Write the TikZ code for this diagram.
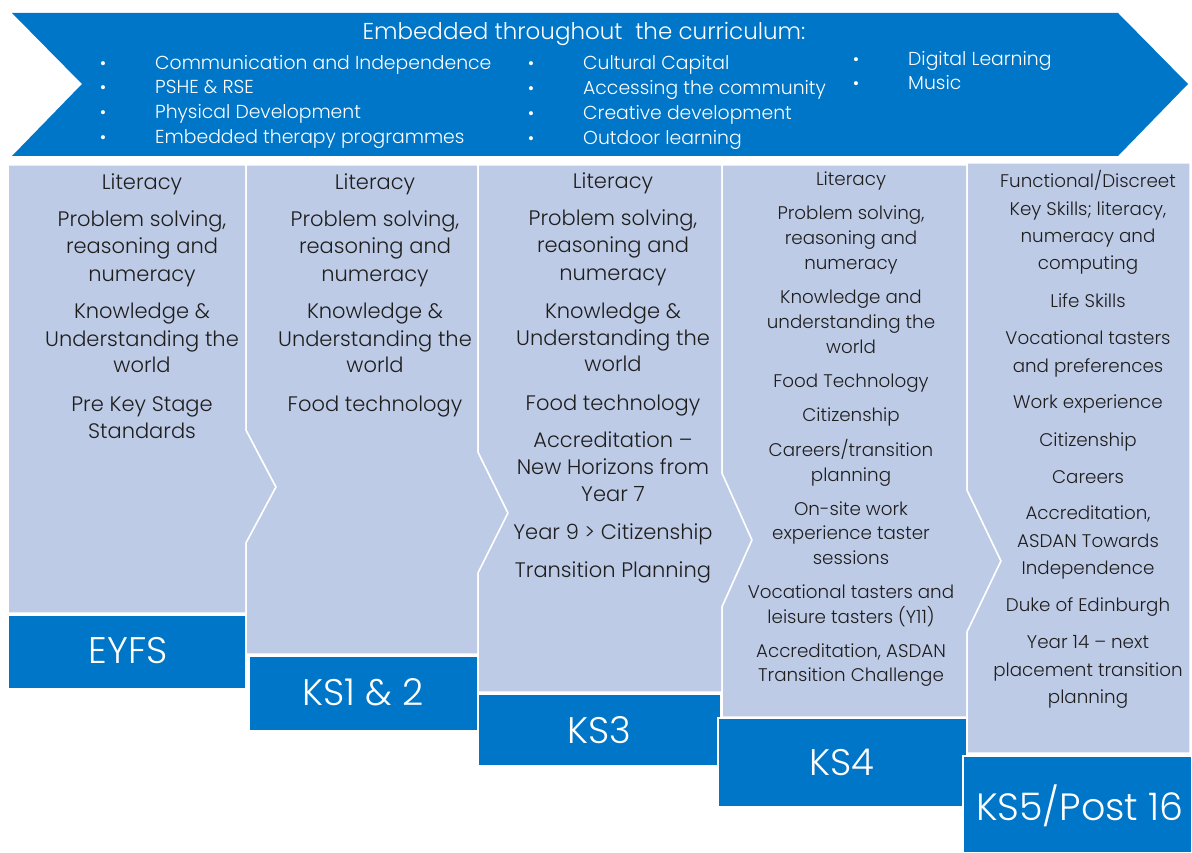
\documentclass[tikz,border=0pt]{standalone}
\usepackage{fontspec}
\setmainfont{Poppins}[UprightFont={* Light}]
\definecolor{dblue}{RGB}{0,118,200}
\definecolor{lblue}{RGB}{190,203,230}
\definecolor{txtgray}{RGB}{30,30,30}
\tikzset{
  panel/.style={fill=lblue, draw=white, line width=1.5pt},
  stagebox/.style={fill=dblue, draw=white, line width=1.5pt},
  ct/.style={anchor=base, text=txtgray, inner sep=0pt, font=\fontsize{21}{24}\selectfont},
  cs/.style={anchor=base, text=txtgray, inner sep=0pt, font=\fontsize{18.3}{22}\selectfont},
  bl/.style={anchor=base west, text=white, inner sep=0pt, font=\fontsize{18.8}{22}\selectfont},
  bd/.style={anchor=base, text=white, inner sep=0pt, font=\fontsize{17.5}{20}\selectfont},
  stage/.style={text=white, inner sep=0pt, font=\fontsize{37}{42}\selectfont},
}
\begin{document}
\begin{tikzpicture}[x=1pt,y=-1pt]
\useasboundingbox (0,0) rectangle (1192,853);
% banner
\fill[dblue] (12,13) -- (1118,13) -- (1188,84) -- (1118,156) -- (12,156) -- (82,84) -- cycle;
\node[anchor=base, text=white, inner sep=0pt, font=\fontsize{23}{26}\selectfont] (title) at (584,40) {Embedded throughout\ \ the curriculum:};
\foreach \y/\t [count=\i] in {64/Communication and Independence, 88/PSHE \& RSE, 113/Physical Development, 138/Embedded therapy programmes}{
  \node[bd] (ba\i) at (103,\y+6) {•};
  \node[bl] (la\i) at (155,\y+6) {\t};
}
\foreach \y/\t [count=\i] in {64/Cultural Capital, 89/Accessing the community, 114/Creative development, 139/Outdoor learning}{
  \node[bd] (bb\i) at (531,\y+6) {•};
  \node[bl] (lb\i) at (583,\y+6) {\t};
}
\foreach \y/\t [count=\i] in {60/Digital Learning, 84/Music}{
  \node[bd] (bc\i) at (856,\y+6) {•};
  \node[bl] (lc\i) at (908,\y+6) {\t};
}
% panels
\path[panel] (8,165) -- (246,165) -- (246,430) -- (276,487) -- (246,543) -- (246,613) -- (8,613) -- cycle;
\path[panel] (246,165) -- (478,165) -- (478,452) -- (508,513) -- (478,573) -- (478,654) -- (246,654) -- (246,543) -- (276,487) -- (246,430) -- cycle;
\path[panel] (478,165) -- (722,165) -- (722,473) -- (752,540) -- (722,607) -- (722,692) -- (478,692) -- (478,573) -- (508,513) -- (478,452) -- cycle;
\path[panel] (722,165) -- (967,165) -- (967,490) -- (1001,561) -- (967,632) -- (967,717) -- (722,717) -- (722,607) -- (752,540) -- (722,473) -- cycle;
\path[panel] (967,163) -- (1190,163) -- (1190,753) -- (967,753) -- (967,632) -- (1001,561) -- (967,490) -- cycle;
% stage boxes
\path[stagebox] (8,615) rectangle (246,689);
\path[stagebox] (249,656) rectangle (478,731);
\path[stagebox] (478,694) rectangle (721,766);
\path[stagebox] (718,718) rectangle (967,807);
\path[stagebox] (963,756) rectangle (1192,853);
\node[stage] (s1) at (128,651) {EYFS};
\node[stage] (s2) at (363,692) {KS1 \& 2};
\node[stage] (s3) at (599,730) {KS3};
\node[stage] (s4) at (842,762) {KS4};
\node[stage, font=\fontsize{38}{42}\selectfont] (s5) at (1080,806) {KS5/Post 16};
% column 1
\foreach \y/\t [count=\i] in {183/Literacy, 220/{Problem solving,}, 247/reasoning and, 274/numeracy, 312/Knowledge \&, 339/Understanding the, 365/world, 404/Pre Key Stage, 431/Standards}{
  \node[ct] (a\i) at (142,\y+7) {\t};
}
% column 2
\foreach \y/\t [count=\i] in {183/Literacy, 220/{Problem solving,}, 247/reasoning and, 274/numeracy, 312/Knowledge \&, 339/Understanding the, 365/world, 404/Food technology}{
  \node[ct] (b\i) at (375,\y+7) {\t};
}
% column 3
\foreach \y/\t [count=\i] in {182/Literacy, 219/{Problem solving,}, 246/reasoning and, 273/numeracy, 311/Knowledge \&, 338/Understanding the, 364/world, 403/Food technology, 440/Accreditation –, 467/New Horizons from, 494/Year 7, 532/Year 9 > Citizenship, 570/Transition Planning}{
  \node[ct] (c\i) at (613,\y+7) {\t};
}
% column 4
\foreach \y/\t [count=\i] in {180/Literacy, 214/{Problem solving,}, 239/reasoning and, 264/numeracy, 298/Knowledge and, 322/understanding the, 347/world, 381/Food Technology, 415/Citizenship, 450/{Careers/transition}, 475/planning, 509/On-site work, 533/experience taster, 558/sessions, 592/Vocational tasters and, 617/leisure tasters (Y11), 651/{Accreditation, ASDAN}, 675/Transition Challenge}{
  \node[cs] (d\i) at (851,\y+6) {\t};
}
% column 5
\foreach \y/\t [count=\i] in {182/{Functional/Discreet}, 210/{Key Skills; literacy,}, 237/numeracy and, 264/computing, 301/Life Skills, 338/Vocational tasters, 366/and preferences, 402/Work experience, 440/Citizenship, 477/Careers, 513/{Accreditation,}, 541/ASDAN Towards, 568/Independence, 605/Duke of Edinburgh, 642/Year 14 – next, 670/placement transition, 697/planning}{
  \node[cs] (e\i) at (1088,\y+6) {\t};
}
\end{tikzpicture}
\end{document}
